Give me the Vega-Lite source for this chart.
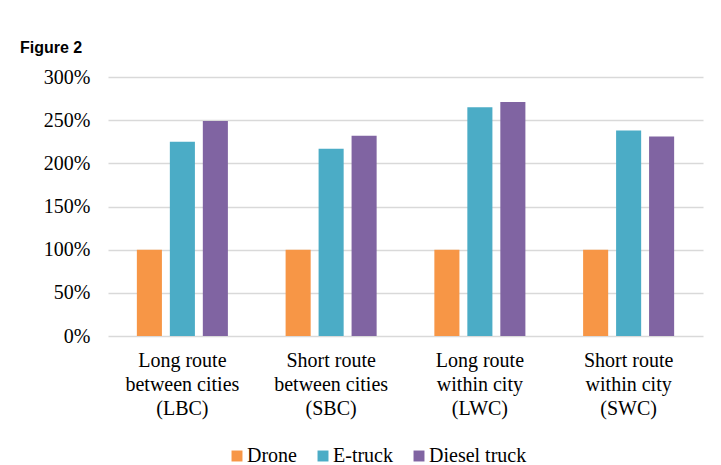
{
  "$schema": "https://vega.github.io/schema/vega-lite/v6.json",
  "width": 595,
  "height": 259,
  "autosize": "none",
  "padding": {"left": 108, "top": 77, "right": 18, "bottom": 129},
  "background": "white",
  "title": {
    "text": "Figure 2",
    "anchor": "start",
    "frame": "group",
    "font": "Liberation Sans",
    "fontSize": 16,
    "fontWeight": "bold",
    "color": "#000000",
    "dx": -88,
    "offset": 11
  },
  "data": {
    "values": [
      {"route": "Long route|between cities|(LBC)", "vehicle": "Drone", "value": 100},
      {"route": "Long route|between cities|(LBC)", "vehicle": "E-truck", "value": 225},
      {"route": "Long route|between cities|(LBC)", "vehicle": "Diesel truck", "value": 249},
      {"route": "Short route|between cities|(SBC)", "vehicle": "Drone", "value": 100},
      {"route": "Short route|between cities|(SBC)", "vehicle": "E-truck", "value": 217},
      {"route": "Short route|between cities|(SBC)", "vehicle": "Diesel truck", "value": 232},
      {"route": "Long route|within city|(LWC)", "vehicle": "Drone", "value": 100},
      {"route": "Long route|within city|(LWC)", "vehicle": "E-truck", "value": 265},
      {"route": "Long route|within city|(LWC)", "vehicle": "Diesel truck", "value": 271},
      {"route": "Short route|within city|(SWC)", "vehicle": "Drone", "value": 100},
      {"route": "Short route|within city|(SWC)", "vehicle": "E-truck", "value": 238},
      {"route": "Short route|within city|(SWC)", "vehicle": "Diesel truck", "value": 231}
    ]
  },
  "mark": {"type": "bar"},
  "encoding": {
    "x": {
      "field": "route",
      "type": "nominal",
      "sort": null,
      "scale": {"paddingInner": 0.388, "paddingOuter": 0.194},
      "axis": {
        "title": null,
        "labelAngle": 0,
        "ticks": false,
        "domain": false,
        "labelExpr": "split(datum.label, '|')",
        "labelFont": "Liberation Serif, Times New Roman, serif",
        "labelFontSize": 20,
        "labelLineHeight": 24,
        "labelColor": "#000000",
        "labelPadding": 14,
        "labelBaseline": "top"
      }
    },
    "xOffset": {
      "field": "vehicle",
      "type": "nominal",
      "sort": ["Drone", "E-truck", "Diesel truck"],
      "scale": {"paddingInner": 0.24, "paddingOuter": 0}
    },
    "y": {
      "field": "value",
      "type": "quantitative",
      "scale": {"domain": [0, 300], "nice": false},
      "axis": {
        "title": null,
        "values": [0, 50, 100, 150, 200, 250, 300],
        "labelExpr": "datum.value + '%'",
        "ticks": false,
        "domain": false,
        "grid": true,
        "gridColor": "#d9d9d9",
        "gridWidth": 1.5,
        "labelFont": "Liberation Serif, Times New Roman, serif",
        "labelFontSize": 20,
        "labelColor": "#000000",
        "labelPadding": 18
      }
    },
    "color": {
      "field": "vehicle",
      "type": "nominal",
      "sort": ["Drone", "E-truck", "Diesel truck"],
      "scale": {"domain": ["Drone", "E-truck", "Diesel truck"], "range": ["#F79646", "#4BACC6", "#8064A2"]},
      "legend": {
        "title": null,
        "orient": "none",
        "direction": "horizontal",
        "legendX": 119,
        "legendY": 369,
        "symbolType": "square",
        "symbolSize": 120,
        "symbolStrokeWidth": 0,
        "labelFont": "Liberation Serif, Times New Roman, serif",
        "labelFontSize": 20,
        "labelColor": "#000000",
        "labelOffset": 0,
        "columnPadding": 16
      }
    }
  },
  "config": {"view": {"stroke": null}}
}
